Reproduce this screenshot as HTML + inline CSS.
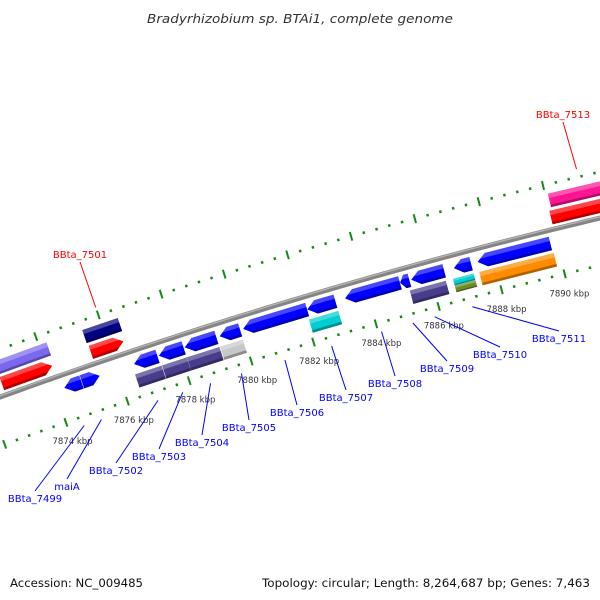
<!DOCTYPE html>
<html><head><meta charset="utf-8"><style>
html,body{margin:0;padding:0;background:#fff;}
svg{display:block;font-family:"DejaVu Sans","Liberation Sans",sans-serif;}
</style></head><body>
<svg id="chart" width="600" height="600" viewBox="0 0 600 600" xmlns="http://www.w3.org/2000/svg">
<rect width="600" height="600" fill="#fff"/>
<text x="300" y="23" text-anchor="middle" font-size="12.5" font-style="italic" fill="#333" textLength="306" lengthAdjust="spacingAndGlyphs">Bradyrhizobium sp. BTAi1, complete genome</text>
<g id="rings"></g>
<g id="backbone"></g>
<g id="features"></g>
<g id="labels"></g>
<text x="10" y="587" font-size="11.5" fill="#111" textLength="133" lengthAdjust="spacingAndGlyphs">Accession: NC_009485</text>
<text x="590" y="587" text-anchor="end" font-size="11.5" fill="#111" textLength="328" lengthAdjust="spacingAndGlyphs">Topology: circular; Length: 8,264,687 bp; Genes: 7,463</text>
</svg>
<script>
// ---- data (kbp) ----
const featStart = [7874.3, 7874.87, 7876.55, 7877.35, 7878.18, 7879.3, 7880.05, 7882.1, 7883.3, 7885.05, 7885.4, 7886.75, 7887.5,
                   7876.48, 7877.35, 7878.15, 7879.22, 7882.06, 7885.27, 7886.64, 7886.64, 7887.47,
                   7870.5, 7872.55, 7875.42, 7890.0,
                   7870.5, 7875.39, 7890.08];
const featEnd   = [7874.86, 7875.45, 7877.31, 7878.15, 7879.2, 7879.96, 7882.1, 7883.0, 7885.05, 7885.35, 7886.45, 7887.3, 7889.8,
                   7877.34, 7878.15, 7879.2, 7879.95, 7883.0, 7886.42, 7887.3, 7887.3, 7889.83,
                   7872.5, 7874.18, 7876.47, 7893.0,
                   7874.25, 7876.53, 7893.0];
const featStrand = [-1, 1, -1, -1, -1, -1, -1, -1, -1, -1, -1, -1, -1,
                    0, 0, 0, 0, 0, 0, 0, 0, 0,
                    1, 1, 1, 1,
                    0, 0, 0];
const featTrack = [-1,-1,-1,-1,-1,-1,-1,-1,-1,-1,-1,-1,-1,
                   -2,-2,-2,-2,-2,-2,-2.5,-1.5,-2,
                   1,1,1,1,
                   2,2,2];
const featColor = ["#0000ff","#0000ff","#0000ff","#0000ff","#0000ff","#0000ff","#0000ff","#0000ff","#0000ff","#0000ff","#0000ff","#0000ff","#0000ff",
                   "#483d8b","#483d8b","#483d8b","#c8c8c8","#00ced1","#483d8b","#6b8e23","#00ced1","#ff8c00",
                   "#ff0000","#ff0000","#ff0000","#ff0000",
                   "#7b68ee","#000080","#ff1493"];
const tickMajorStep = 2;
const tickMinorStep = 0.4;
const tickLabelKb = [7874, 7876, 7878, 7880, 7882, 7884, 7886, 7888, 7890];
const labelNames = ["BBta_7499","maiA","BBta_7502","BBta_7503","BBta_7504","BBta_7505","BBta_7506","BBta_7507","BBta_7508","BBta_7509","BBta_7510","BBta_7511","BBta_7501","BBta_7513"];
const labelKb = [7874.5, 7875.06, 7876.9, 7877.7, 7878.6, 7879.6, 7881.0, 7882.5, 7884.1, 7885.1, 7885.8, 7887.0, 7876.0, 7891.1];
const labelSide = [-1,-1,-1,-1,-1,-1,-1,-1,-1,-1,-1,-1,1,1];
const labelX = [35, 67, 116, 159, 202, 249, 297, 346, 395, 447, 500, 559, 80, 563];
const labelY = [502, 490, 474, 460, 446, 431, 416, 401, 387, 372, 358, 342, 258, 118];

// ---- geometry ----
const CX = 1837.5, CY = 5461, R0 = 5387, A0 = -0.3381, K = 0.006092;
function pt(kb, r){ const a = A0 + (kb-7874)*K; return [CX + r*Math.sin(a), CY - r*Math.cos(a)]; }
function trackR(t){ // returns [rOuter, rInner]
  if (t===-1) return [R0-6, R0-20];
  if (t===-2) return [R0-23, R0-37];
  if (t===-1.5) return [R0-23, R0-30];
  if (t===-2.5) return [R0-30, R0-37];
  if (t===1) return [R0+19, R0+5];
  return [R0+36, R0+22];
}
const NS = "http://www.w3.org/2000/svg";
function mk(tag, parent){ const e = document.createElementNS(NS, tag); parent.appendChild(e); return e; }
const f2 = p => p[0].toFixed(2)+","+p[1].toFixed(2);

// ---- tick rings ----
const rings = document.getElementById('rings');
[R0-46, R0+45].forEach((rr, ri) => {
  for (let i = 0; i <= 60; i++) {
    const kb = 7868 + i*tickMinorStep;
    const major = Math.abs((kb/tickMajorStep) - Math.round(kb/tickMajorStep)) < 1e-6;
    const len = major ? 4.5 : 1.3;
    const a = pt(kb, rr-len), b = pt(kb, rr+len);
    const l = mk('line', rings);
    
    
    l.setAttribute('x1', a[0]); l.setAttribute('y1', a[1]); l.setAttribute('x2', b[0]); l.setAttribute('y2', b[1]);
    l.setAttribute('stroke', '#138a13'); l.setAttribute('stroke-width', major ? 2 : 2.4);
  }
});
tickLabelKb.forEach(kb => {
  const p = pt(kb, R0-66);
  const t = mk('text', rings);
  
  
  t.setAttribute('x', p[0]); t.setAttribute('y', p[1]+3);
  t.setAttribute('text-anchor', 'middle'); t.setAttribute('font-size', '8.5'); t.setAttribute('fill', '#333');
  t.textContent = kb + ' kbp';
});

// ---- backbone ----
const bb = document.getElementById('backbone');
function arc(r, k0, k1){ let d = ""; for (let kb = k0; kb <= k1; kb += 0.25) d += (d ? "L" : "M") + f2(pt(kb, r)); return d; }
const bp = mk('path', bb);
 
bp.setAttribute('d', arc(R0, 7868, 7895)); bp.setAttribute('stroke', '#858585'); bp.setAttribute('stroke-width', '5'); bp.setAttribute('fill', 'none');
const bh = mk('path', bb);
 
bh.setAttribute('d', arc(R0+1.2, 7868, 7895)); bh.setAttribute('stroke', '#b5b5b5'); bh.setAttribute('stroke-width', '1.3'); bh.setAttribute('fill', 'none');

// ---- features ----
const fg = document.getElementById('features');
const defs = mk('defs', document.getElementById('chart'));
for (let i = 0; i < featStart.length; i++) {
  const s = featStart[i], e = featEnd[i], [ro, rin] = trackR(featTrack[i]), rm = (ro+rin)/2;
  const h = Math.min(0.28, (e-s)/2);
  let pts;
  if (featStrand[i] === -1) pts = [pt(s+h, ro), pt(e, ro), pt(e, rin), pt(s+h, rin), pt(s, rm)];
  else if (featStrand[i] === 1) pts = [pt(s, ro), pt(e-h, ro), pt(e, rm), pt(e-h, rin), pt(s, rin)];
  else pts = [pt(s, ro), pt(e, ro), pt(e, rin), pt(s, rin)];
  const ptsStr = pts.map(f2).join(' ');
  const cp = mk('clipPath', defs); cp.setAttribute('id', 'clip'+i);
  const cpp = mk('polygon', cp); cpp.setAttribute('points', ptsStr);
  const g = mk('g', fg);
  
  
  g.setAttribute('clip-path', 'url(#clip'+i+')');
  const body = mk('polygon', g);
   
  body.setAttribute('points', ptsStr); body.setAttribute('fill', featColor[i]);
  const span = ro - rin;
  const top = mk('polygon', g);
   
  top.setAttribute('points', [pt(s-1, ro+1), pt(e+1, ro+1), pt(e+1, ro-span*0.3), pt(s-1, ro-span*0.3)].map(f2).join(' '));
  top.setAttribute('fill', '#fff'); top.setAttribute('fill-opacity', '0.28');
  const bot = mk('polygon', g);
   
  bot.setAttribute('points', [pt(s-1, rin+Math.min(3, span*0.25)), pt(e+1, rin+Math.min(3, span*0.25)), pt(e+1, rin-1), pt(s-1, rin-1)].map(f2).join(' '));
  bot.setAttribute('fill', '#000'); bot.setAttribute('fill-opacity', '0.3');
}

// ---- labels ----
const lg = document.getElementById('labels');
for (let i = 0; i < labelNames.length; i++) {
  const col = labelSide[i] < 0 ? '#0000ff' : '#ff0000';
  const a = pt(labelKb[i], labelSide[i] < 0 ? R0-55 : R0+53);
  const ln = mk('line', lg);
  
  
  ln.setAttribute('x1', a[0]); ln.setAttribute('y1', a[1]);
  ln.setAttribute('x2', labelX[i]); ln.setAttribute('y2', labelY[i] + (labelSide[i] < 0 ? -11 : 4));
  ln.setAttribute('stroke', col); ln.setAttribute('stroke-width', '1');
  const t = mk('text', lg);
  
  
  t.setAttribute('x', labelX[i]); t.setAttribute('y', labelY[i]);
  t.setAttribute('text-anchor', 'middle'); t.setAttribute('font-size', '10'); t.setAttribute('fill', col);
  t.textContent = labelNames[i];
}
</script>
</body></html>
